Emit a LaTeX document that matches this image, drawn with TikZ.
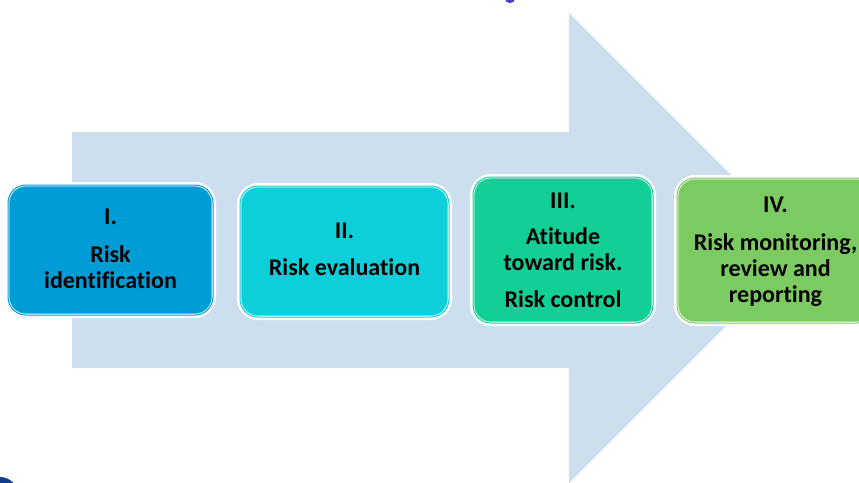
\documentclass[tikz,border=0pt]{standalone}
\usepackage{fontspec}
\setmainfont{Carlito}[Ligatures=CommonOff]
\definecolor{arrowbg}{RGB}{205,223,239}
\definecolor{stageA}{RGB}{0,156,214}
\definecolor{stageB}{RGB}{12,207,217}
\definecolor{stageC}{RGB}{18,207,152}
\definecolor{stageD}{RGB}{124,203,98}
\definecolor{dotpurple}{RGB}{72,62,200}
\definecolor{dotnavy}{RGB}{20,60,140}
\begin{document}
\begin{tikzpicture}[x=1pt,y=-1pt,
  stagebox/.style={fill=#1, draw=white, double=#1, line width=0.8pt,
    double distance=1pt, rounded corners=18pt, inner sep=0pt,
    preaction={draw=white, line width=6pt}},
  lbl/.style={font=\fontsize{24}{26}\selectfont\bfseries, align=center,
    anchor=base, inner sep=0pt, text=black}]
\useasboundingbox (0,0) rectangle (859,482);
\clip (0,0) rectangle (859,482);

% broad background arrow
\fill[arrowbg] (72,132) -- (569,132) -- (569,13) -- (804,248)
  -- (569,483) -- (569,368) -- (72,368) -- cycle;

% small marks at the edges
\fill[dotpurple] (510,-1) ellipse (5 and 4);
\fill[dotnavy] (0,495) circle (18);

% the four stages
\node[stagebox=stageA, minimum width=205pt, minimum height=130pt] (s1) at (110.5,250) {};
\node[stagebox=stageB, minimum width=209pt, minimum height=131pt] (s2) at (344.5,251.5) {};
\node[stagebox=stageC, minimum width=180pt, minimum height=146pt] (s3) at (563,250) {};
\node[stagebox=stageD, minimum width=197pt, minimum height=145pt] (s4) at (775.5,250.5) {};

% stage texts, each placed at the baseline of its last line
\node[lbl] (t1) at (110.5,288) {I.\\[12pt]Risk\\identification};
\node[lbl] (t2) at (344.5,275) {II.\\[11pt]Risk evaluation};
\node[lbl] (t3) at (563,307) {III.\\[10pt]Atitude\\toward risk.\\[11pt]Risk control};
\node[lbl] (t4) at (775.5,302) {IV.\\[12pt]Risk monitoring,\\review and\\reporting};
\end{tikzpicture}
\end{document}
